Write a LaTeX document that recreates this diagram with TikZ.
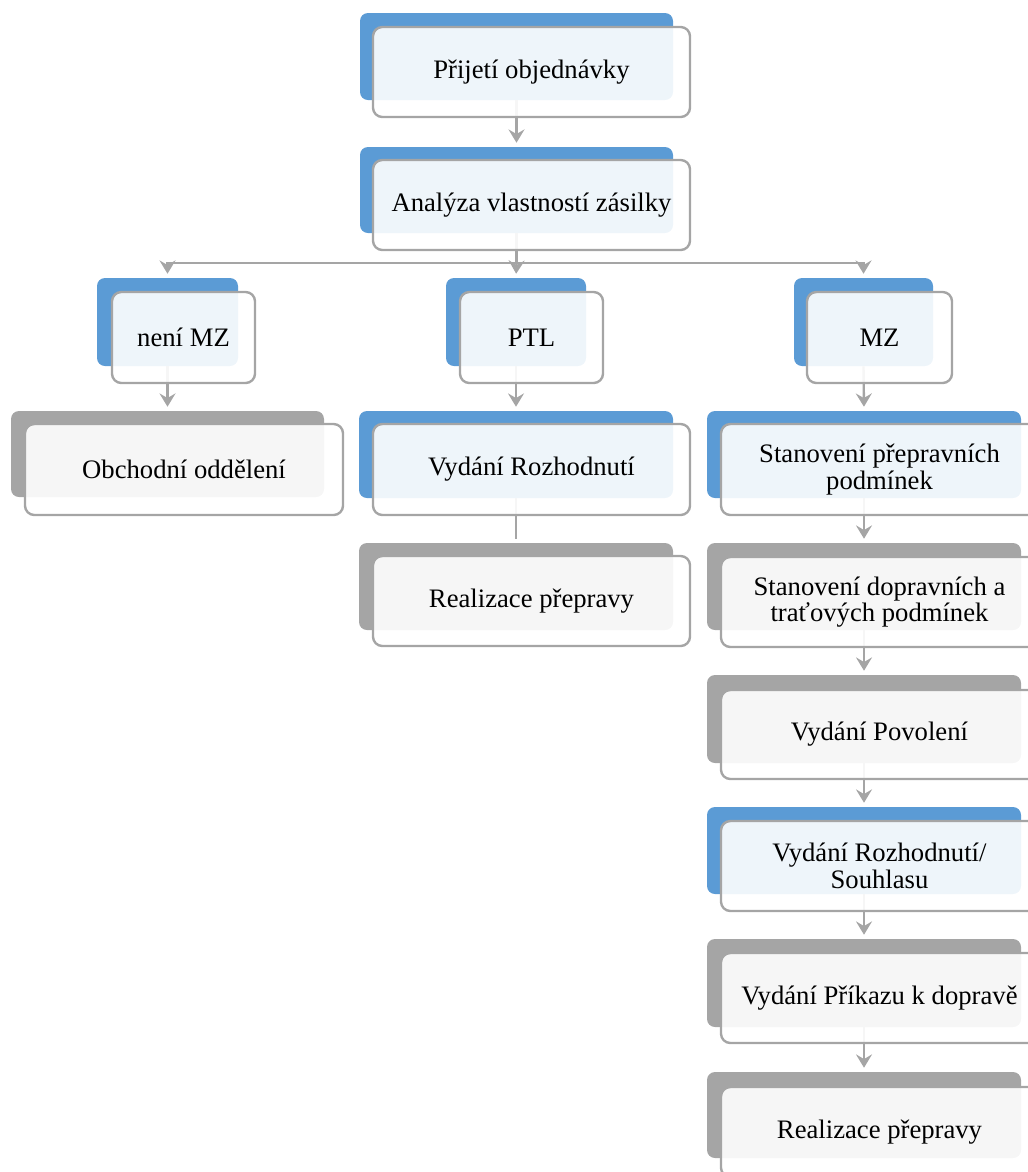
\documentclass[tikz,border=0pt]{standalone}
\usepackage{fontspec}
\setmainfont{Liberation Serif}
\usetikzlibrary{fit,arrows.meta}
\definecolor{accblue}{HTML}{5B9BD5}
\definecolor{accgray}{HTML}{A5A5A5}
\definecolor{linegray}{HTML}{A5A5A5}
\begin{document}
\begin{tikzpicture}[x=0.75pt,y=-0.75pt,
  backbox/.style={rounded corners=6pt, inner sep=0pt, draw=none},
  bluebox/.style={backbox, fill=accblue},
  graybox/.style={backbox, fill=accgray},
  frontbox/.style={rounded corners=7pt, inner sep=0pt, draw=linegray, line width=1.8pt, fill=white, fill opacity=0.9},
  lbl/.style={font=\fontsize{20pt}{20pt}\selectfont, align=center, inner sep=0pt, text=black},
  conn/.style={draw=linegray, line width=1.8pt},
  arr/.style={conn, -{Stealth[length=10pt,width=12pt,inset=3.5pt]}, shorten >=3pt},
]
\useasboundingbox (0,0) rectangle (1028,1172);
\clip (0,0) rectangle (1028,1172);

% back rectangles
\node[bluebox, fit={(360,13) (673,100)}] (b1) {};
\node[bluebox, fit={(360,147) (673,233)}] (b2) {};
\node[bluebox, fit={(97,278) (238,366)}] (b3) {};
\node[bluebox, fit={(446,278) (586,366)}] (b4) {};
\node[bluebox, fit={(794,278) (933,366)}] (b5) {};
\node[graybox, fit={(11,411) (324,497)}] (b6) {};
\node[bluebox, fit={(359,411) (673,498)}] (b7) {};
\node[graybox, fit={(359,543) (673,630)}] (b8) {};
\node[bluebox, fit={(707,411) (1021,498)}] (b9) {};
\node[graybox, fit={(707,543) (1021,630)}] (b10) {};
\node[graybox, fit={(707,675) (1021,763)}] (b11) {};
\node[bluebox, fit={(707,807) (1021,894)}] (b12) {};
\node[graybox, fit={(707,939) (1021,1027)}] (b13) {};
\node[graybox, fit={(707,1072) (1021,1158)}] (b14) {};

% connectors
\draw[arr] (b1.south) -- (b2.north);
\path (b2.south) ++(0,30) coordinate (split);
\draw[conn] (b2.south) -- (split);
\draw[arr] (split) -| (b3.north);
\draw[arr] (split) -- (b4.north);
\draw[arr] (split) -| (b5.north);
\draw[arr] (b3.south) -- (b6.north);
\draw[arr] (b4.south) -- (b7.north);
\draw[conn, shorten >=3pt] (b7.south) -- (b8.north);
\draw[arr] (b5.south) -- (b9.north);
\draw[arr] (b9.south) -- (b10.north);
\draw[arr] (b10.south) -- (b11.north);
\draw[arr] (b11.south) -- (b12.north);
\draw[arr] (b12.south) -- (b13.north);
\draw[arr] (b13.south) -- (b14.north);

% front rectangles
\node[frontbox, fit={(373,27) (690,117)}] (f1) {};
\node[frontbox, fit={(373,160) (690,250)}] (f2) {};
\node[frontbox, fit={(112,292) (255,383)}] (f3) {};
\node[frontbox, fit={(460,292) (603,383)}] (f4) {};
\node[frontbox, fit={(807,292) (952,383)}] (f5) {};
\node[frontbox, fit={(25,424) (343,515)}] (f6) {};
\node[frontbox, fit={(373,424) (690,515)}] (f7) {};
\node[frontbox, fit={(373,556) (690,646)}] (f8) {};
\node[frontbox, fit={(721,424) (1038,515)}] (f9) {};
\node[frontbox, fit={(721,557) (1038,647)}] (f10) {};
\node[frontbox, fit={(721,690) (1038,779)}] (f11) {};
\node[frontbox, fit={(721,821) (1038,911)}] (f12) {};
\node[frontbox, fit={(721,953) (1038,1043)}] (f13) {};
\node[frontbox, fit={(721,1087) (1038,1177)}] (f14) {};

% labels
\node[lbl] (t1) at (f1.center) {Přijetí objednávky};
\node[lbl] (t2) at (f2.center) {Analýza vlastností zásilky};
\node[lbl] (t3) at (f3.center) {není MZ};
\node[lbl] (t4) at (f4.center) {PTL};
\node[lbl] (t5) at (f5.center) {MZ};
\node[lbl] (t6) at (f6.center) {Obchodní oddělení};
\node[lbl] (t7) at (f7.center) {Vydání Rozhodnutí};
\node[lbl] (t8) at (f8.center) {Realizace přepravy};
\node[lbl] (t9) at (f9.center) {Stanovení přepravních\\podmínek};
\node[lbl] (t10) at (f10.center) {Stanovení dopravních a\\traťových podmínek};
\node[lbl] (t11) at (f11.center) {Vydání Povolení};
\node[lbl] (t12) at (f12.center) {Vydání Rozhodnutí/\\Souhlasu};
\node[lbl] (t13) at (f13.center) {Vydání Příkazu k dopravě};
\node[lbl] (t14) at (f14.center) {Realizace přepravy};
\end{tikzpicture}
\end{document}
